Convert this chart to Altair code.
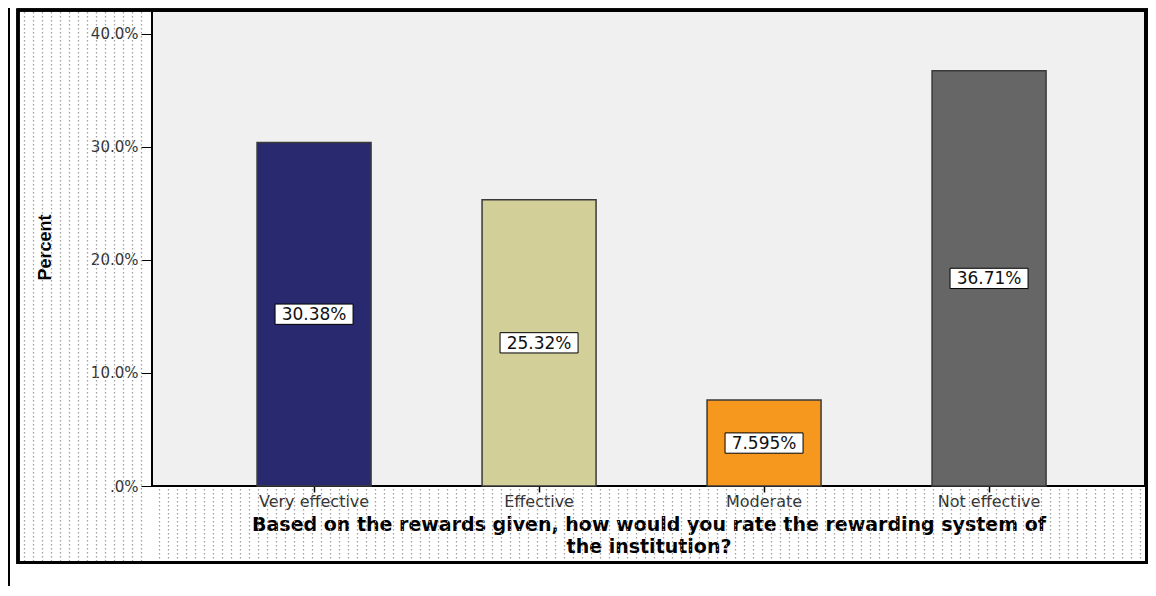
import altair as alt
import pandas as pd

# ---- data ----
categories = ["Very effective", "Effective", "Moderate", "Not effective"]
percents = [30.38, 25.32, 7.595, 36.71]
value_labels = ["30.38%", "25.32%", "7.595%", "36.71%"]
bar_colors = ["#28296f", "#d3cf98", "#f7981e", "#666666"]
y_ticks = [0, 10, 20, 30, 40]
x_title = ["Based on the rewards given, how would you rate the rewarding system of",
           "the institution?"]
y_title = "Percent"

# ---- layout / style ----
W, H = 993, 475
FONT = "DejaVu Sans"

df = pd.DataFrame({"cat": categories, "pct": percents, "lab": value_labels})

# dotted background texture (pure decoration, SPSS-style)
pat_rows = []
for px in range(-128, 1000, 9):
    if px < -3:
        pat_rows.append({"px": px + 0.5, "py": 1, "py2": 550})
    elif 2 < px < W - 2:
        pat_rows.append({"px": px + 0.5, "py": 478, "py2": 550})
pat_df = pd.DataFrame(pat_rows)

pattern = alt.Chart(pat_df).mark_rule(
    color="#a0a0a0", strokeWidth=1.3, strokeDash=[1.5, 2.5]
).encode(
    x=alt.X("px:Q", scale=None, axis=None),
    y=alt.Y("py:Q", scale=None, axis=None),
    y2="py2:Q",
)

frame = alt.Chart(df).mark_rect(
    fill="transparent", stroke="#000", strokeWidth=3
).encode(
    x=alt.value(-134), x2=alt.value(W + 1.5), y=alt.value(-1), y2=alt.value(551.5)
)

left_line = alt.Chart(df).mark_rule(color="#000", strokeWidth=2).encode(
    x=alt.value(-143), y=alt.value(-3), y2=alt.value(575)
)

xscale = alt.Scale(domain=categories, paddingInner=0.4933, paddingOuter=0.4533, align=0.515)
yscale = alt.Scale(domain=[0, 42.0], nice=False, zero=True)

x_axis = alt.Axis(
    title=x_title, labelAngle=0, labelFont=FONT, labelFontSize=16,
    labelColor="#333", tickColor="#000", tickSize=6, tickWidth=1.5,
    labelPadding=1, domain=False, grid=False,
    titleFont=FONT, titleFontSize=19, titleFontWeight="bold", titleColor="#000",
    titleLineHeight=22, titleY=44, titleBaseline="alphabetic",
)
y_axis = alt.Axis(
    values=y_ticks,
    labelExpr="datum.value == 0 ? '.0%' : format(datum.value, '.1f') + '%'",
    title=y_title, titleFont="Liberation Sans", titleFontSize=18,
    titleFontWeight="bold", titleColor="#000", titleAngle=270,
    titleX=-107, titleY=236, titleAlign="center", titleBaseline="middle",
    labelFont=FONT, labelFontSize=15, labelColor="#333",
    tickColor="#000", tickSize=11, tickWidth=1, labelPadding=3,
    domain=False, grid=False,
)

base = alt.Chart(df)

bars = base.mark_bar(stroke="#3a3a3a", strokeWidth=1.5).encode(
    x=alt.X("cat:N", sort=categories, scale=xscale, axis=x_axis),
    y=alt.Y("pct:Q", scale=yscale, axis=y_axis),
    color=alt.Color("cat:N", scale=alt.Scale(domain=categories, range=bar_colors), legend=None),
)

boxes = base.transform_calculate(mid="datum.pct / 2").mark_point(
    shape="M-1,-0.26L1,-0.26L1,0.26L-1,0.26Z", size=6084,
    filled=True, fill="#ffffff", stroke="#000", strokeWidth=1, opacity=1,
).encode(
    x=alt.X("cat:N", sort=categories, scale=xscale),
    y=alt.Y("mid:Q", scale=yscale),
)

texts = base.transform_calculate(mid="datum.pct / 2").mark_text(
    font=FONT, fontSize=17, color="#111", baseline="middle", align="center", dy=1
).encode(
    x=alt.X("cat:N", sort=categories, scale=xscale),
    y=alt.Y("mid:Q", scale=yscale),
    text="lab:N",
)

main = alt.layer(bars, boxes, texts)

chart = alt.layer(pattern, frame, left_line, main).resolve_scale(
    x="independent", y="independent"
).properties(
    width=W, height=H,
    padding={"left": 144, "top": 3, "right": 3, "bottom": 100},
    autosize=alt.AutoSizeParams(type="none"),
    background="#ffffff",
).configure_view(
    fill="#f0f0f0", stroke="#000", strokeWidth=2
)

chart.save("out.html", embed_options={"renderer": "svg", "actions": False})
